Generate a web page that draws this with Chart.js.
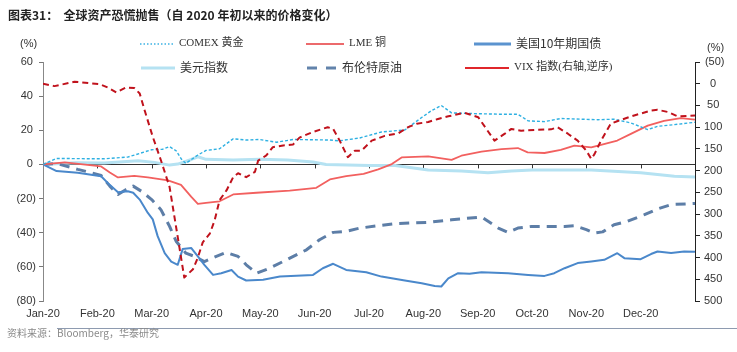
<!DOCTYPE html>
<html>
<head>
<meta charset="utf-8">
<script src="https://cdn.jsdelivr.net/npm/chart.js@4.4.0/dist/chart.umd.min.js"></script>
<style>
  html, body { margin: 0; padding: 0; background: #fff; }
</style>
</head>
<body>
<canvas id="chart" width="737" height="352"></canvas>
<script>
// Month tick labels (x = month index from Jan 1 2020)
const monthLabels = ['Jan-20', 'Feb-20', 'Mar-20', 'Apr-20', 'May-20', 'Jun-20',
                     'Jul-20', 'Aug-20', 'Sep-20', 'Oct-20', 'Nov-20', 'Dec-20'];

// COMEX gold, % change since start of year
const goldM = [0, 0.25, 0.6, 1.13, 1.56, 2.0, 2.2, 2.33, 2.45, 2.55, 2.63, 2.85, 3.0, 3.25, 3.5, 3.74, 3.98, 4.3, 4.6, 5.28,
               5.45, 5.83, 6.23, 6.66, 6.97, 7.15, 7.33, 7.52, 7.89, 8.44, 8.74, 8.93, 9.23, 9.53, 10.21, 10.51, 10.82, 11.13, 11.31, 11.62, 12.0];
const goldVal = [0, 3.5, 3.4, 3.3, 4.3, 8.6, 8.9, 10.4, 8.0, 3.0, 0.6, 5.5, 8.2, 9.2, 15.0, 14.3, 14.6, 13.0, 14.6, 14.3,
                 13.8, 15.5, 19.0, 20.2, 27.5, 31.5, 34.5, 30.2, 29.8, 29.4, 29.4, 25.5, 25.1, 26.9, 26.2, 26.5, 24.3, 20.4, 22.3, 23.3, 24.7];

// LME copper
const copperM = [0, 0.4, 1.07, 1.23, 1.38, 1.68, 1.93, 2.3, 2.54, 2.73, 2.85, 3.0, 3.25, 3.5, 3.93, 4.54, 5.03, 5.28, 5.58, 5.9,
                 6.17, 6.42, 6.6, 7.09, 7.52, 7.7, 8.07, 8.44, 8.74, 8.92, 9.23, 9.53, 9.78, 10.09, 10.27, 10.57, 10.82, 11.13, 11.43, 11.74, 12.0];
const copperVal = [0, 1.2, -1.2, -4.7, -7.6, -6.7, -7.6, -9.4, -12, -19, -23.1, -22.5, -21.6, -17.6, -16.6, -15.3, -13.7, -8.8, -6.9, -5.5,
                   -2.9, 0.2, 4.1, 4.7, 2.7, 5.1, 7.5, 9, 9.6, 7.1, 6.7, 8.5, 11, 10, 11.4, 14, 17.9, 22.7, 25.5, 27.1, 26.3];

// US 10Y treasury yield
const ust10M = [0, 0.25, 0.64, 1.07, 1.19, 1.38, 1.56, 1.66, 1.78, 1.93, 2.02, 2.11, 2.24, 2.36, 2.48, 2.57, 2.73, 2.85, 2.97, 3.13,
                3.28, 3.47, 3.59, 3.74, 4.05, 4.36, 4.97, 5.15, 5.34, 5.58, 5.95, 6.23, 6.66, 6.97, 7.21, 7.33, 7.46, 7.64, 7.85, 8.07,
                8.56, 8.93, 9.23, 9.41, 9.6, 9.84, 10.09, 10.33, 10.57, 10.7, 11.0, 11.19, 11.31, 11.56, 11.8, 12.0];
const ust10Val = [0, -3.9, -4.9, -6.9, -10.8, -16.3, -15.7, -16.6, -20.6, -28.4, -32.2, -42, -52, -56.9, -58.8, -49.6, -49, -53.9, -58.8, -64.7,
                  -63.7, -61.8, -65.7, -68, -67.6, -65.7, -64.7, -60.8, -58.2, -61.8, -63.2, -65.7, -68, -69.6, -71.2, -71.5, -66.7, -63.7, -64.1, -63.2,
                  -63.7, -64.7, -65.3, -63.7, -60.8, -57.8, -56.9, -55.9, -52, -54.9, -55.5, -52.5, -51, -51.9, -51, -51.2];

// US dollar index
const dxyM = [0, 0.6, 1.13, 1.75, 2.05, 2.33, 2.48, 2.73, 2.85, 3.0, 3.5, 4.0, 4.5, 4.97, 5.21, 6.01, 6.48, 7.09, 7.7, 8.19,
              8.62, 9.0, 10.09, 11.0, 11.62, 12.0];
const dxyVal = [0, 1, 0.8, 2.2, 1.2, -0.4, 0.2, 2.9, 4.5, 3, 2.6, 3, 2.6, 1.4, 0, -0.6, -0.6, -3.3, -3.9, -4.9,
                -3.9, -3.3, -3.3, -4.9, -6.9, -7.3];

// Brent crude
const brentM = [0, 0.25, 0.64, 0.89, 1.07, 1.23, 1.38, 1.53, 1.66, 1.81, 2.0, 2.17, 2.33, 2.45, 2.63, 2.79, 2.97, 3.19, 3.37, 3.59,
                3.74, 3.93, 4.17, 4.48, 4.85, 5.09, 5.34, 5.58, 5.83, 6.17, 6.48, 7.09, 7.52, 8.07, 8.38, 8.56, 8.74, 8.99, 9.6, 9.78,
                10.0, 10.15, 10.3, 10.51, 10.76, 11.07, 11.31, 11.56, 12.0];
const brentVal = [0, 0.6, -2.9, -4.9, -6.5, -12.7, -17.6, -14.7, -12.7, -15.7, -20.6, -26.5, -36.3, -45, -52, -53.9, -56.9, -53.9, -51.6, -53.9,
                  -58.8, -63.7, -60.8, -55.9, -50, -44.1, -39.8, -39.2, -37.3, -35.9, -34.7, -33.9, -32.4, -30.8, -37.3, -39.8, -37.3, -36.3, -36.3, -35.9,
                  -38.2, -40.2, -39.5, -35.3, -33.3, -29.4, -26.1, -23.5, -22.9];

// VIX, % change (right axis, reversed)
const vixM = [0, 0.21, 0.58, 1.04, 1.19, 1.35, 1.53, 1.68, 1.78, 1.87, 2.02, 2.17, 2.33, 2.42, 2.51, 2.60, 2.76, 2.85, 2.94, 3.07,
              3.16, 3.25, 3.38, 3.5, 3.59, 3.74, 3.9, 3.96, 4.11, 4.23, 4.42, 4.6, 4.72, 4.97, 5.24, 5.34, 5.46, 5.61, 5.74, 5.86,
              6.05, 6.29, 6.54, 6.72, 6.88, 7.09, 7.27, 7.46, 7.76, 8.01, 8.16, 8.31, 8.5, 8.62, 8.8, 9.1, 9.35, 9.47, 9.66, 9.84,
              10.0, 10.09, 10.15, 10.27, 10.45, 10.64, 10.88, 11.19, 11.31, 11.5, 11.68, 12.0];
const vixVal = [0, 5.5, -4.5, 0.8, 8.5, 20, 8.5, 10, 22.4, 61, 122, 176, 238, 307, 376, 446, 427, 400, 365, 345,
                314, 268, 245, 215, 206, 215, 203, 177, 165, 146, 142, 140, 124, 111, 100, 104, 131, 169, 154, 154,
                131, 120, 114, 100, 92, 88, 81, 75, 67, 77, 104, 131, 115, 104, 108, 106, 105, 100, 115, 131,
                154, 173, 162, 131, 92, 83, 73, 62, 60, 65, 75, 73];

const toPoints = (xs, ys) => xs.map((m, i) => ({ x: m, y: ys[i] }));

// parentheses for negatives, trailing space for positives (accounting style)
function fmtTick(v) {
    return v < 0 ? '(' + (-v) + ')' : v + ' ';
}

const cjk = '"Noto Sans CJK SC"';
const serif = '"Liberation Serif", "Noto Sans CJK SC"';

// Title, legend, footer and the month ticks on the zero line
const decorPlugin = {
    id: 'decor',
    beforeDatasetsDraw(chart) {
        const { ctx, scales } = chart;
        const y0 = scales.y.getPixelForValue(0);
        ctx.save();
        ctx.strokeStyle = '#333';
        ctx.lineWidth = 1;
        for (let i = 1; i < monthLabels.length; i++) {
            const px = Math.round(scales.x.getPixelForValue(i)) + 0.5;
            ctx.beginPath();
            ctx.moveTo(px, y0);
            ctx.lineTo(px, y0 + 4);
            ctx.stroke();
        }
        ctx.restore();
    },
    afterDraw(chart) {
        const ctx = chart.ctx;
        ctx.save();
        ctx.textBaseline = 'middle';

        // title
        ctx.fillStyle = '#222';
        ctx.font = 'bold 12px ' + cjk;
        ctx.fillText('图表31：  全球资产恐慌抛售（自 2020 年初以来的价格变化）', 8, 15);

        // axis units
        ctx.fillStyle = '#333';
        ctx.font = '11px "Liberation Sans"';
        ctx.fillText('(%)', 20, 44);
        ctx.fillText('(%)', 707, 48);

        // legend
        const items = [
            { x: 140, y: 43, w: 34, text: 'COMEX 黄金', font: '11px ' + serif, color: '#3DB3E3', width: 1.5, dash: [1.5, 2] },
            { x: 306, y: 43, w: 38, text: 'LME 铜', font: '11px ' + serif, color: '#EC6A6C', width: 2, dash: [] },
            { x: 474, y: 43, w: 37, text: '美国10年期国债', font: '12px ' + cjk, color: '#5B93CF', width: 3, dash: [] },
            { x: 141, y: 67, w: 34, text: '美元指数', font: '12px ' + cjk, color: '#B5E2F2', width: 3, dash: [] },
            { x: 307, y: 67, w: 30, text: '布伦特原油', font: '12px ' + cjk, color: '#6283AB', width: 3, dash: [10, 9] },
            { x: 465, y: 67, w: 44, text: 'VIX 指数(右轴,逆序)', font: '11px ' + serif, color: '#E0262B', width: 2, dash: [] }
        ];
        items.forEach(it => {
            ctx.strokeStyle = it.color;
            ctx.lineWidth = it.width;
            ctx.setLineDash(it.dash);
            ctx.beginPath();
            ctx.moveTo(it.x, it.y + 1);
            ctx.lineTo(it.x + it.w, it.y + 1);
            ctx.stroke();
            ctx.setLineDash([]);
            ctx.fillStyle = '#333';
            ctx.font = it.font;
            ctx.fillText(it.text, it.x + it.w + 5, it.y);
        });

        // footer
        ctx.strokeStyle = '#8E9BB0';
        ctx.lineWidth = 1;
        ctx.beginPath();
        ctx.moveTo(57, 328.5);
        ctx.lineTo(737, 328.5);
        ctx.stroke();
        ctx.fillStyle = '#8A8A8A';
        ctx.font = '10px ' + cjk;
        ctx.fillText('资料来源：Bloomberg，华泰研究', 7, 333);
        ctx.restore();
    }
};

const ctx = document.getElementById('chart').getContext('2d');
const chart = new Chart(ctx, {
    type: 'line',
    data: {
        datasets: [
            { label: 'VIX 指数(右轴,逆序)', data: toPoints(vixM, vixVal), yAxisID: 'y1',
              borderColor: '#C0121C', borderWidth: 2, borderDash: [6, 4] },
            { label: 'COMEX 黄金', data: toPoints(goldM, goldVal), yAxisID: 'y',
              borderColor: '#2EB0E2', borderWidth: 1.4, borderDash: [3, 2] },
            { label: 'LME 铜', data: toPoints(copperM, copperVal), yAxisID: 'y',
              borderColor: '#F2605F', borderWidth: 1.8 },
            { label: '美国10年期国债', data: toPoints(ust10M, ust10Val), yAxisID: 'y',
              borderColor: '#4A88CB', borderWidth: 2 },
            { label: '布伦特原油', data: toPoints(brentM, brentVal), yAxisID: 'y',
              borderColor: '#5D7EA7', borderWidth: 3, borderDash: [10, 7] },
            { label: '美元指数', data: toPoints(dxyM, dxyVal), yAxisID: 'y',
              borderColor: '#B5E2F2', borderWidth: 3 }
        ]
    },
    options: {
        responsive: false,
        animation: false,
        devicePixelRatio: 1,
        layout: { padding: { top: 62, bottom: 31, left: 0, right: 0 } },
        elements: { point: { radius: 0 }, line: { tension: 0, borderJoinStyle: 'round' } },
        plugins: { legend: { display: false }, tooltip: { enabled: false } },
        scales: {
            x: {
                type: 'linear', min: 0, max: 12,
                grid: { display: false, drawTicks: false },
                border: { display: false },
                ticks: {
                    stepSize: 1, autoSkip: false, maxRotation: 0, padding: 6,
                    color: '#333', font: { family: 'Liberation Sans', size: 11 },
                    callback: v => monthLabels[v] || ''
                },
                afterFit: s => { s.height = 20; }
            },
            y: {
                position: 'left', min: -80, max: 60,
                ticks: { stepSize: 20, padding: 3, color: '#333',
                         font: { family: 'Liberation Sans', size: 11 }, callback: fmtTick },
                grid: {
                    color: c => (c.tick && c.tick.value === 0 ? '#333' : 'rgba(0,0,0,0)'),
                    tickColor: '#777', tickLength: 4, lineWidth: 1
                },
                border: { color: '#888', width: 1 },
                afterFit: s => { s.width = 43; }
            },
            y1: {
                position: 'right', min: -50, max: 500, reverse: true,
                ticks: { stepSize: 50, padding: 4, color: '#333', crossAlign: 'center',
                         font: { family: 'Liberation Sans', size: 11 }, callback: fmtTick },
                grid: { drawOnChartArea: false, tickColor: '#222', tickLength: 5 },
                border: { color: '#222', width: 1 },
                afterFit: s => { s.width = 42; }
            }
        }
    },
    plugins: [decorPlugin]
});
</script>
</body>
</html>
